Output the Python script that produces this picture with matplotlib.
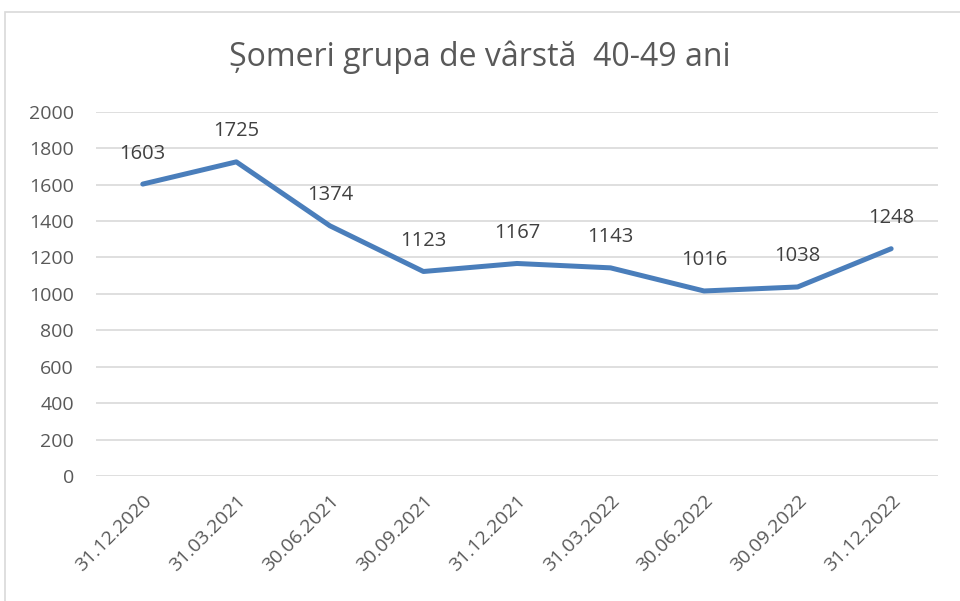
import matplotlib
matplotlib.use("Agg")
import matplotlib.pyplot as plt
from matplotlib.patches import Rectangle

dates = ["31.12.2020", "31.03.2021", "30.06.2021", "30.09.2021", "31.12.2021",
         "31.03.2022", "30.06.2022", "30.09.2022", "31.12.2022"]
somer = [1603, 1725, 1374, 1123, 1167, 1143, 1016, 1038, 1248]
y_ticks = [0, 200, 400, 600, 800, 1000, 1200, 1400, 1600, 1800, 2000]
title = "Șomeri grupa de vârstă  40-49 ani"

plt.rcParams["font.family"] = ["Open Sans", "DejaVu Sans"]
text_gray = "#595959"
grid_gray = "#d9d9d9"

fig = plt.figure(figsize=(9.6, 6.01), dpi=100)
ax = fig.add_axes([0.100, 0.208, 0.877, 0.606])

# chart-area border (top and left visible in the crop)
fig.add_artist(Rectangle((5 / 960, -0.1), 1.2, 1.1 - 12 / 601, transform=fig.transFigure,
                         fill=False, edgecolor=grid_gray, lw=1.2))

x = list(range(len(dates)))
ax.plot(x, somer, color="#4a7ebb", lw=3.6, solid_joinstyle="round",
        solid_capstyle="round", zorder=3)
for xi, v in zip(x, somer):
    ax.annotate(str(v), (xi, v), xytext=(0, 22), textcoords="offset points",
                ha="center", va="center", fontsize=14.5, color="#404040")

ax.set_xlim(-0.5, len(dates) - 0.5)
ax.set_ylim(0, 2000)
ax.set_yticks(y_ticks)
ax.set_yticklabels([str(t) for t in y_ticks])
ax.set_xticks(x)
ax.set_xticklabels(dates, rotation=45, ha="right", rotation_mode="anchor")
ax.tick_params(axis="both", length=0, labelsize=14, labelcolor=text_gray)
ax.tick_params(axis="x", pad=11)
ax.tick_params(axis="y", pad=16)
ax.grid(axis="y", color=grid_gray, lw=1.2)
ax.set_axisbelow(True)
for s in ax.spines.values():
    s.set_visible(False)

fig.text(0.5, 1 - 57 / 601, title, ha="center", va="center", fontsize=23, color=text_gray)

fig.savefig("out.png", dpi=100)
